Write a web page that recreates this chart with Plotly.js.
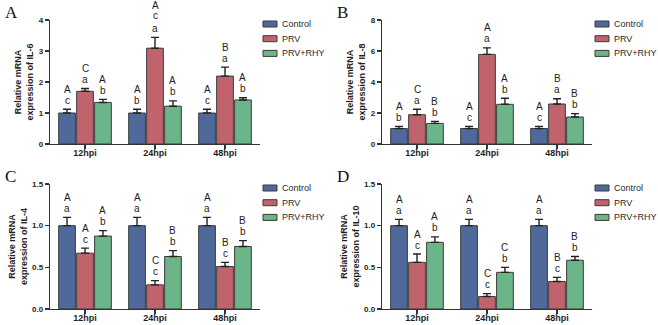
<!DOCTYPE html>
<html>
<head>
<meta charset="utf-8">
<script src="https://cdn.plot.ly/plotly-3.0.1.min.js"></script>
<style>
  html, body { margin: 0; padding: 0; background: #fff; }
  #chart { width: 658px; height: 325px; }
</style>
</head>
<body>
<div id="chart"></div>
<script>
// Time points and treatment groups
const categories = ['12hpi', '24hpi', '48hpi'];
const groups = ['Control', 'PRV', 'PRV+RHY'];

// IL-6 relative expression (mean, upper error)
const il6Control = [1.00, 1.00, 1.00];
const il6ControlErr = [0.12, 0.12, 0.12];
const il6Prv = [1.70, 3.09, 2.19];
const il6PrvErr = [0.09, 0.35, 0.29];
const il6Rhy = [1.34, 1.22, 1.42];
const il6RhyErr = [0.10, 0.17, 0.07];
const il6Letters = [['A c', 'A b', 'A c'], ['C a', 'A c a', 'B a'], ['A b', 'A b', 'A b']];

// IL-8
const il8Control = [1.00, 1.00, 1.00];
const il8ControlErr = [0.14, 0.14, 0.14];
const il8Prv = [1.89, 5.78, 2.58];
const il8PrvErr = [0.35, 0.42, 0.34];
const il8Rhy = [1.33, 2.56, 1.74];
const il8RhyErr = [0.13, 0.39, 0.22];
const il8Letters = [['A b', 'A c', 'A c'], ['C a', 'A a', 'B a'], ['B b', 'A b', 'B b']];

// IL-4
const il4Control = [1.00, 1.00, 1.00];
const il4ControlErr = [0.10, 0.10, 0.10];
const il4Prv = [0.67, 0.29, 0.51];
const il4PrvErr = [0.06, 0.05, 0.05];
const il4Rhy = [0.875, 0.63, 0.75];
const il4RhyErr = [0.065, 0.07, 0.07];
const il4Letters = [['A a', 'A a', 'A a'], ['A c', 'C c', 'B c'], ['A b', 'B b', 'B b']];

// IL-10
const il10Control = [1.00, 1.00, 1.00];
const il10ControlErr = [0.075, 0.075, 0.075];
const il10Prv = [0.56, 0.15, 0.33];
const il10PrvErr = [0.10, 0.035, 0.05];
const il10Rhy = [0.80, 0.44, 0.585];
const il10RhyErr = [0.065, 0.06, 0.045];
const il10Letters = [['A a', 'A a', 'A a'], ['A c', 'C c', 'B c'], ['A b', 'C b', 'B b']];

const colors = ['#50699b', '#c0636d', '#6cb589'];
const FONT = 'Liberation Sans, Arial, sans-serif';
const BARGAP = 0.23;
const slot = (1 - BARGAP) / groups.length;

const panels = [
  { key: '', letter: 'A', gene: 'IL-6', range: [0, 4], dtick: 1, fmt: '',
    means: [il6Control, il6Prv, il6Rhy], errs: [il6ControlErr, il6PrvErr, il6RhyErr], letters: il6Letters,
    xd: [50, 260], yd: [20, 144] },
  { key: '2', letter: 'B', gene: 'IL-8', range: [0, 8], dtick: 2, fmt: '',
    means: [il8Control, il8Prv, il8Rhy], errs: [il8ControlErr, il8PrvErr, il8RhyErr], letters: il8Letters,
    xd: [382, 592], yd: [20, 144] },
  { key: '3', letter: 'C', gene: 'IL-4', range: [0, 1.5], dtick: 0.5, fmt: '.1f',
    means: [il4Control, il4Prv, il4Rhy], errs: [il4ControlErr, il4PrvErr, il4RhyErr], letters: il4Letters,
    xd: [50, 260], yd: [184, 309] },
  { key: '4', letter: 'D', gene: 'IL-10', range: [0, 1.5], dtick: 0.5, fmt: '.1f',
    means: [il10Control, il10Prv, il10Rhy], errs: [il10ControlErr, il10PrvErr, il10RhyErr], letters: il10Letters,
    xd: [382, 592], yd: [184, 309] }
];

const W = 658, H = 325;
const traces = [];
const annotations = [];
const shapes = [];
const layout = {
  width: W, height: H,
  margin: { l: 0, r: 0, t: 0, b: 0, autoexpand: false },
  paper_bgcolor: '#fff', plot_bgcolor: '#fff',
  barmode: 'group', bargap: BARGAP, bargroupgap: 0.07,
  font: { family: FONT, color: '#222' },
  showlegend: false,
  annotations: annotations,
  shapes: shapes
};

panels.forEach((p) => {
  const xa = 'x' + p.key, ya = 'y' + p.key;
  groups.forEach((g, gi) => {
    traces.push({
      type: 'bar', name: g, x: categories, y: p.means[gi],
      xaxis: xa, yaxis: ya,
      marker: { color: colors[gi], line: { color: '#3a3a3a', width: 1 } },
      error_y: { type: 'data', symmetric: false, array: p.errs[gi], arrayminus: p.errs[gi].map(() => 0),
                 color: '#222', thickness: 1.4, width: 4 },
      hoverinfo: 'skip'
    });
    // significance letters stacked above each error bar
    categories.forEach((c, ci) => {
      const parts = p.letters[gi][ci].split(' ').reverse();
      const top = p.means[gi][ci] + p.errs[gi][ci];
      const shifts = parts.length === 3 ? [1, 14.5, 24] : [1.5, 12.5];
      parts.forEach((t, li) => {
        annotations.push({
          xref: xa, yref: ya, x: ci + (gi - 1) * slot, y: top,
          text: t, showarrow: false, yanchor: 'bottom', yshift: shifts[li],
          font: { family: FONT, size: 10, color: '#1e1e1e' }
        });
      });
    });

    // legend entry: swatch + label to the right of the panel
    const lx = p.xd[1] + 3, ly = p.yd[0] + 4 + gi * 14.7;
    shapes.push({
      type: 'rect', xref: 'paper', yref: 'paper',
      x0: lx / W, x1: (lx + 14) / W, y0: 1 - (ly - 3) / H, y1: 1 - (ly + 3) / H,
      fillcolor: colors[gi], line: { color: '#3a3a3a', width: 1 }
    });
    annotations.push({
      xref: 'paper', yref: 'paper', x: (lx + 17) / W, y: 1 - ly / H,
      xanchor: 'left', yanchor: 'middle', text: g, showarrow: false,
      font: { family: FONT, size: 9, color: '#2a2a2a' }
    });
  });

  const xdom = [p.xd[0] / W, p.xd[1] / W];
  const ydom = [1 - p.yd[1] / H, 1 - p.yd[0] / H];
  layout['xaxis' + p.key] = {
    domain: xdom, anchor: ya, type: 'category', range: [-0.5, 2.5],
    showline: true, linecolor: '#333', linewidth: 1.2,
    ticks: 'outside', ticklen: 4, tickwidth: 1.2, tickcolor: '#333', ticklabelstandoff: -4,
    tickfont: { family: FONT, size: 9, color: '#1e1e1e', weight: 'bold' },
    showgrid: false, zeroline: false, fixedrange: true
  };
  layout['yaxis' + p.key] = {
    domain: ydom, anchor: xa, range: p.range, dtick: p.dtick, tick0: 0, tickformat: p.fmt,
    showline: true, linecolor: '#333', linewidth: 1.2,
    ticks: 'outside', ticklen: 4, tickwidth: 1.2, tickcolor: '#333',
    tickfont: { family: FONT, size: 8, color: '#1e1e1e', weight: 'bold' },
    showgrid: false, zeroline: false, fixedrange: true,
    title: { text: 'Relative mRNA<br>expression of ' + p.gene, standoff: 3,
             font: { family: FONT, size: 9, color: '#1e1e1e', weight: 'bold' } }
  };
  // panel letter
  annotations.push({
    xref: 'paper', yref: 'paper', x: (p.xd[0] - 47) / W, y: 1 - (p.yd[0] - 8) / H,
    xanchor: 'left', yanchor: 'middle', text: p.letter, showarrow: false,
    font: { family: 'Liberation Serif, Times New Roman, serif', size: 17, color: '#111' }
  });
});

Plotly.newPlot('chart', traces, layout, { staticPlot: true, displayModeBar: false });
</script>
</body>
</html>
